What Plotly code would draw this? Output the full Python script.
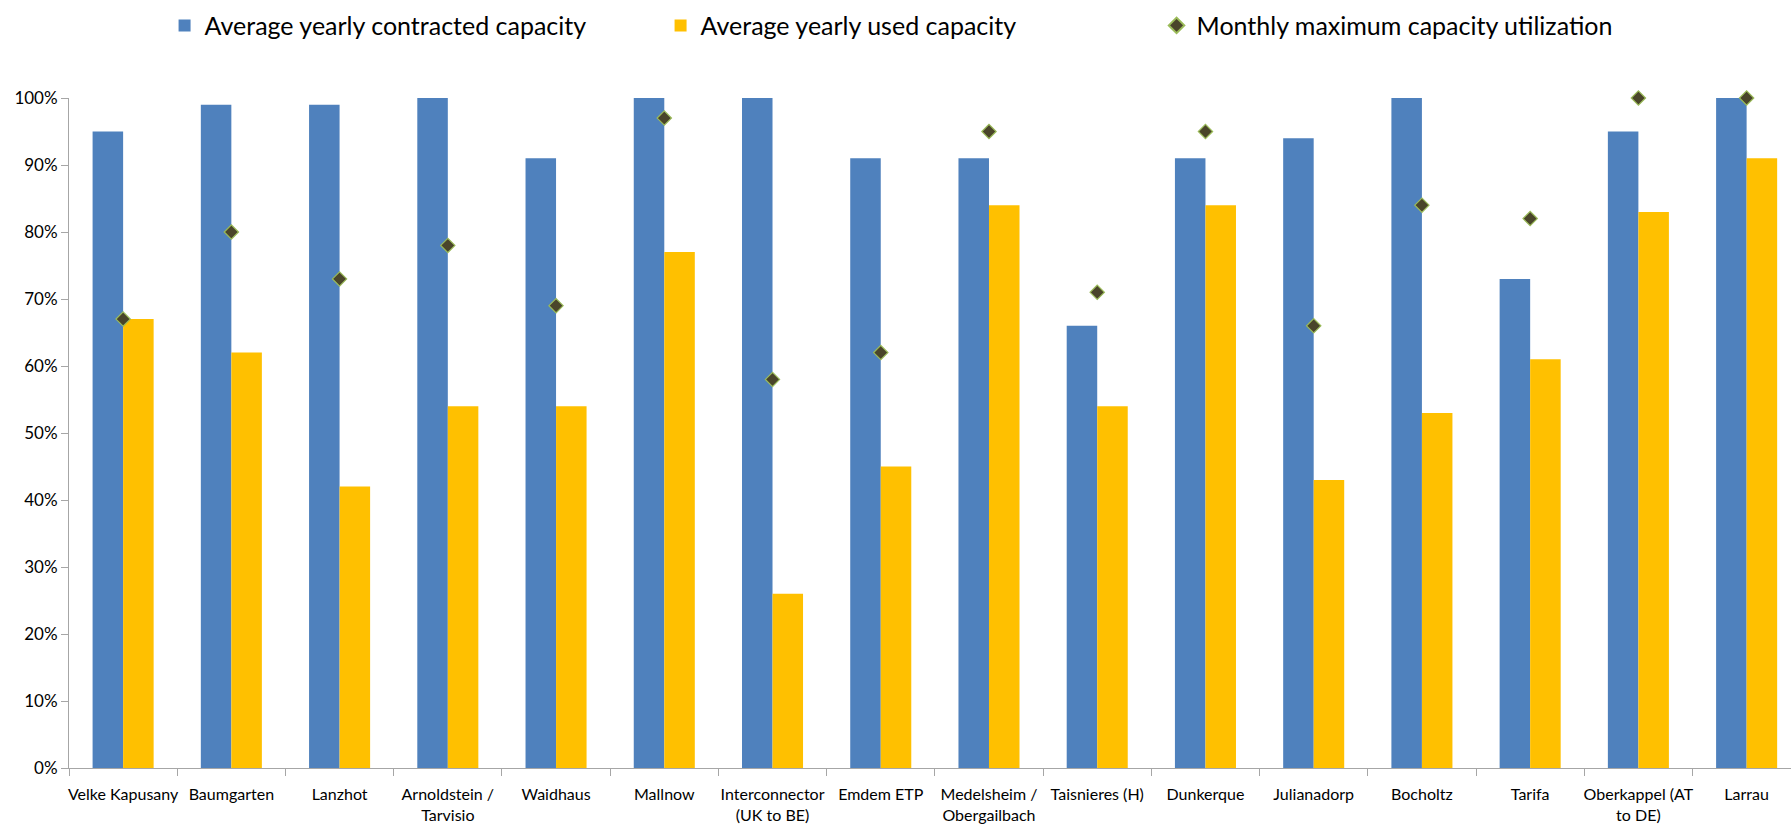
import plotly.graph_objects as go

categories = ["Velke Kapusany", "Baumgarten", "Lanzhot", "Arnoldstein /<br>Tarvisio", "Waidhaus",
              "Mallnow", "Interconnector<br>(UK to BE)", "Emdem ETP", "Medelsheim /<br>Obergailbach",
              "Taisnieres (H)", "Dunkerque", "Julianadorp", "Bocholtz", "Tarifa",
              "Oberkappel (AT<br>to DE)", "Larrau"]
contracted = [95, 99, 99, 100, 91, 100, 100, 91, 91, 66, 91, 94, 100, 73, 95, 100]
used = [67, 62, 42, 54, 54, 77, 26, 45, 84, 54, 84, 43, 53, 61, 83, 91]
monthly_max = [67, 80, 73, 78, 69, 97, 58, 62, 95, 71, 95, 66, 84, 82, 100, 100]

series_names = ["Average yearly contracted capacity", "Average yearly used capacity",
                "Monthly maximum capacity utilization"]

FONT = "Lato, Carlito, Calibri, sans-serif"

fig = go.Figure()
fig.add_trace(go.Bar(x=categories, y=[v / 100 for v in contracted], name=series_names[0],
                     marker=dict(color="#4F81BD", line=dict(width=0))))
fig.add_trace(go.Bar(x=categories, y=[v / 100 for v in used], name=series_names[1],
                     marker=dict(color="#FFC000", line=dict(width=0))))
fig.add_trace(go.Scatter(x=categories, y=[v / 100 for v in monthly_max], name=series_names[2],
                         mode="markers", cliponaxis=False,
                         marker=dict(symbol="diamond", size=11, color="#4A452A",
                                     line=dict(color="#9BBB59", width=1.2))))

fig.update_layout(
    width=1791, height=828,
    margin=dict(l=69, r=0, t=98, b=60),
    paper_bgcolor="white", plot_bgcolor="white",
    font=dict(family=FONT, color="black"),
    barmode="group", bargap=0.436, bargroupgap=0,
    legend=dict(orientation="h", x=0.0555, xanchor="left", y=1.108, yanchor="middle",
                font=dict(size=25, family=FONT, color="black"),
                entrywidth=451, entrywidthmode="pixels", itemsizing="constant",
                bgcolor="rgba(0,0,0,0)"),
    showlegend=True,
)
fig.update_xaxes(range=[-0.5, 15.41], showline=True, linecolor="#A6A6A6", linewidth=1,
                 ticks="outside", tickson="boundaries", ticklen=7, tickcolor="#A6A6A6",
                 tickfont=dict(size=16, family=FONT, color="black"), tickangle=0,
                 ticklabelstandoff=12, showgrid=False, zeroline=False, fixedrange=True)
fig.update_yaxes(range=[0, 1], tickvals=[i / 10 for i in range(11)], tickformat=".0%",
                 showline=True, linecolor="#A6A6A6", linewidth=1, ticks="outside", ticklen=7,
                 tickcolor="#A6A6A6", tickfont=dict(size=17, family=FONT, color="black"),
                 showgrid=False, zeroline=False, fixedrange=True)

fig.write_html("out.html", config={"displayModeBar": False},
               post_script="document.body.style.margin='0';")
